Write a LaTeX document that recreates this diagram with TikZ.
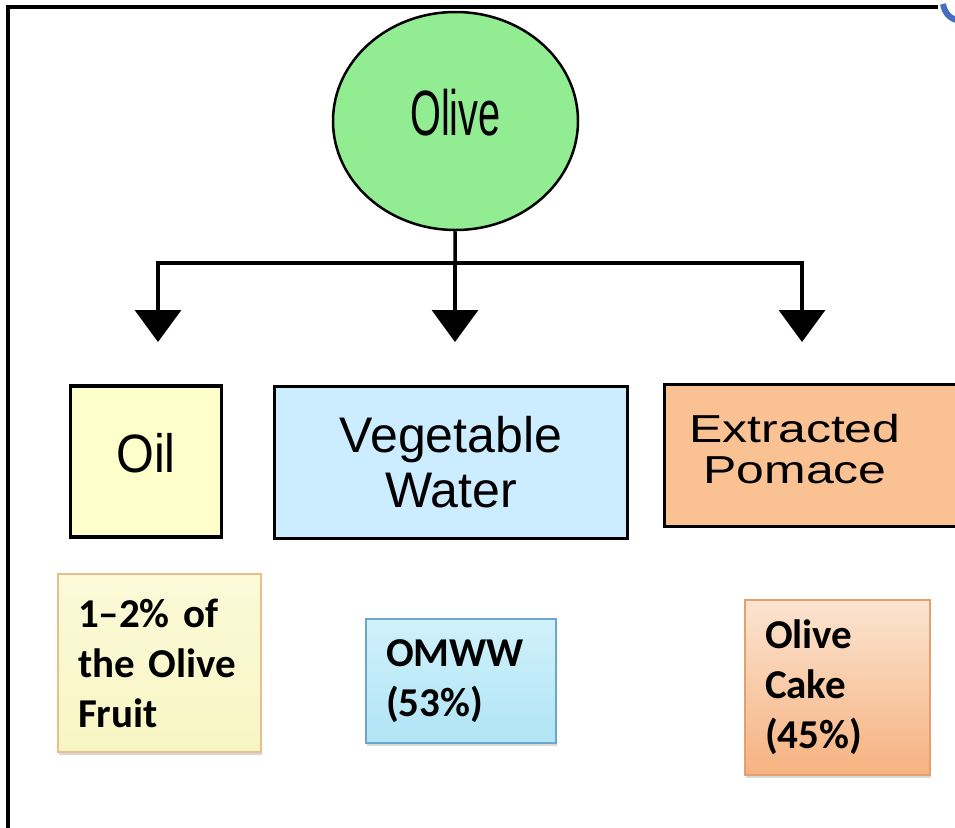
\documentclass[tikz,border=0pt]{standalone}
\usepackage{fontspec}
\usetikzlibrary{shapes.geometric,arrows.meta,shadows}
\setmainfont{Liberation Sans}
\newfontfamily\olivefont[FakeStretch=0.62]{Liberation Sans}
\newfontfamily\oilfont[FakeStretch=0.9]{Liberation Sans}
\newfontfamily\pomacefont[FakeStretch=1.28]{Liberation Sans}
\newfontfamily\notefont{Carlito}
\definecolor{olivegreen}{RGB}{146,236,146}
\definecolor{oilyellow}{RGB}{255,255,204}
\definecolor{waterblue}{RGB}{204,236,255}
\definecolor{pomaceorange}{RGB}{250,194,146}
\definecolor{fruittop}{RGB}{252,250,216}
\definecolor{fruitbottom}{RGB}{248,245,196}
\definecolor{fruitedge}{RGB}{232,190,140}
\definecolor{omwwtop}{RGB}{208,241,251}
\definecolor{omwwbottom}{RGB}{176,228,245}
\definecolor{omwwedge}{RGB}{110,165,205}
\definecolor{caketop}{RGB}{251,228,208}
\definecolor{cakebottom}{RGB}{246,178,128}
\definecolor{cakeedge}{RGB}{228,160,110}
\definecolor{arcblue}{RGB}{70,110,190}
\begin{document}
\begin{tikzpicture}
        [x=1pt,y=-1pt,
        olivedecorate/.style={shape=ellipse,draw,line width=2.5pt,fill=olivegreen,inner sep=0pt,%
          minimum width=245pt,minimum height=218pt},
        boxdecorate/.style={shape=rectangle,draw,line width=3.5pt,inner sep=0pt,align=center},
        notedecorate/.style={shape=rectangle,draw,line width=1.2pt,inner xsep=20pt,inner ysep=0pt,%
          align=left,font=\notefont\bfseries\fontsize{41}{50}\selectfont,%
          drop shadow={shadow xshift=1pt,shadow yshift=-3pt,opacity=.3}},
        arrowdecorate/.style={-{Triangle[width=46pt,length=32pt]},line width=3.5pt},
        linedecorate/.style={-,line width=3.5pt}]
        \useasboundingbox (0,0) rectangle (955,827);
        %% frame
        \draw[line width=3.5pt] (938,7) -- (8,7) -- (8,830);
        \draw[line width=6pt,arcblue] (943,4) .. controls (945,14) and (950,19) .. (960,21);

        %% nodes or vertices
        \node (olive) at (455.5,121) [olivedecorate,text depth=17pt,%
          font=\olivefont\fontsize{64}{70}\selectfont] {Olive};
        \node (oil) at (146,461.5) [boxdecorate,fill=oilyellow,minimum width=151pt,minimum height=151pt,%
          text depth=18pt,font=\oilfont\fontsize{54}{60}\selectfont] {Oil};
        \node (water) at (451,462.5) [boxdecorate,fill=waterblue,minimum width=353pt,minimum height=152pt,%
          font=\fontsize{50}{55}\selectfont] {Vegetable\\Water};
        \node (pomace) at (827,455.5) [boxdecorate,fill=pomaceorange,minimum width=325pt,minimum height=142pt] {};
        \node (pomacetext) at (795,449) [align=center,font=\pomacefont\fontsize{39}{41}\selectfont] {Extracted\\Pomace};

        \node (fruit) at (159.5,663) [notedecorate,top color=fruittop,bottom color=fruitbottom,draw=fruitedge,%
          text width=163pt,minimum height=178pt] {1–2\% of\\the Olive\\Fruit};
        \node (omww) at (461,681) [notedecorate,top color=omwwtop,bottom color=omwwbottom,draw=omwwedge,%
          text width=150pt,minimum height=124pt] {OMWW\\(53\%)};
        \node (cake) at (837.5,687.5) [notedecorate,top color=caketop,bottom color=cakebottom,draw=cakeedge,%
          text width=145pt,minimum height=175pt] {Olive\\Cake\\(45\%)};

        %% edges or lines
        \coordinate (split) at (455,263);
        \coordinate (oiltip) at (158,342);
        \coordinate (watertip) at (455,342);
        \coordinate (pomacetip) at (802,342);
        \draw[linedecorate] (olive) -- (split);
        \foreach \endnode in {oiltip, watertip, pomacetip}
        {
          \draw[arrowdecorate] (split) -| (\endnode);
        }
\end{tikzpicture}
\end{document}
